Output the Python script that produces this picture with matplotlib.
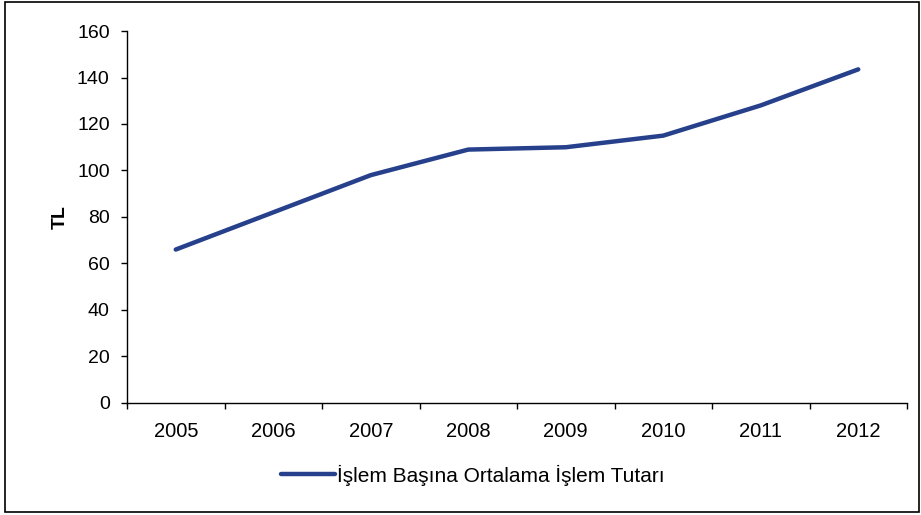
import matplotlib.pyplot as plt
from matplotlib.patches import Rectangle
from matplotlib.ticker import FixedLocator

plt.rcParams['font.family'] = ['Liberation Sans', 'DejaVu Sans']

years = ['2005', '2006', '2007', '2008', '2009', '2010', '2011', '2012']
avg_amount = [66, 82, 98, 109, 110, 115, 128, 143.5]
series_name = 'İşlem Başına Ortalama İşlem Tutarı'

fig = plt.figure(figsize=(9.21, 5.15), dpi=100)
ax = fig.add_axes([0.1379, 0.2175, 0.8469, 0.7223])

x = list(range(len(years)))
ax.plot(x, avg_amount, color='#27408B', lw=3.2, solid_capstyle='round',
        label=series_name)

ax.set_xlim(-0.5, len(years) - 0.5)
ax.set_ylim(0, 160)
ax.set_yticks(range(0, 161, 20))
ax.set_xticks(x)
ax.set_xticklabels(years)
ax.xaxis.set_minor_locator(FixedLocator([i - 0.5 for i in range(len(years) + 1)]))

for side in ('top', 'right'):
    ax.spines[side].set_visible(False)
for side in ('left', 'bottom'):
    ax.spines[side].set_linewidth(1.0)

ax.tick_params(axis='x', which='major', length=0, pad=13.5, labelsize=14.5)
ax.tick_params(axis='x', which='minor', length=4.5, width=1, direction='out')
ax.tick_params(axis='y', length=4.5, width=1, direction='out', pad=8, labelsize=14)

ax.set_ylabel('TL', fontsize=14, fontweight='bold', labelpad=6)

fig.legend(loc='center', bbox_to_anchor=(0.5136, 0.0777), frameon=False,
           fontsize=15, handlelength=2.6, handletextpad=0.1)

# outer frame around the whole chart area
fig.patches.append(Rectangle((0.005, 0.006), 0.993, 0.99, transform=fig.transFigure,
                             fill=False, edgecolor='black', lw=1.2))

fig.savefig('out.png', dpi=100)
